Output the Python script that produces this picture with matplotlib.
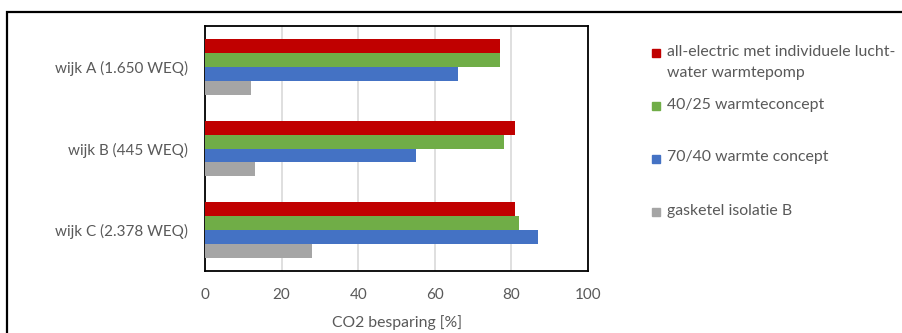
import numpy as np
import matplotlib.pyplot as plt
from matplotlib.patches import Rectangle

# data
wijken = ['wijk A (1.650 WEQ)', 'wijk B (445 WEQ)', 'wijk C (2.378 WEQ)']
series_labels = ['all-electric met individuele lucht-\nwater warmtepomp',
                 '40/25 warmteconcept',
                 '70/40 warmte concept',
                 'gasketel isolatie B']
all_electric = [77, 81, 81]
concept_40_25 = [77, 78, 82]
concept_70_40 = [66, 55, 87]
gasketel = [12, 13, 28]
xticks = [0, 20, 40, 60, 80, 100]

colors = ['#C00000', '#70AD47', '#4472C4', '#A5A5A5']
series = [all_electric, concept_40_25, concept_70_40, gasketel]

W, H = 902, 333
plt.rcParams['font.family'] = ['Lato', 'DejaVu Sans']
fig = plt.figure(figsize=(W / 100, H / 100), dpi=100)

# outer frame (cut off at right and bottom like the screenshot)
fig.patches.append(Rectangle((7 / W, -0.2), 1.2, (H - 12) / H + 0.2,
                             transform=fig.transFigure, fill=False,
                             edgecolor='black', linewidth=1.6))

ax = fig.add_axes([205 / W, (H - 271) / H, 383 / W, 245 / H])
y = np.arange(len(wijken))
h = 0.1714
for j, (vals, c) in enumerate(zip(series, colors)):
    ax.barh(y + (j - 1.5) * h, vals, height=h, color=c, zorder=3)

ax.set_xlim(0, 100)
ax.set_ylim(len(wijken) - 0.5, -0.5)
ax.set_xticks(xticks)
ax.set_yticks(y)
ax.set_yticklabels(wijken)
ax.tick_params(length=0, labelsize=11, labelcolor='#595959')
ax.tick_params(axis='x', pad=12)
ax.tick_params(axis='y', pad=12)
ax.grid(axis='x', color='#D9D9D9', linewidth=1.2, zorder=0)
for s in ax.spines.values():
    s.set_color('black')
    s.set_linewidth(1.3)
ax.set_xlabel('CO2 besparing [%]', fontsize=11.3, color='#595959', labelpad=10)

# legend
leg_y = [53, 106, 159, 212]
for lab, c, ly in zip(series_labels, colors, leg_y):
    fig.patches.append(Rectangle((652 / W, (H - ly - 4) / H), 8 / W, 8 / H,
                                 transform=fig.transFigure, color=c))
    fig.text(667 / W, (H - ly + 8.5) / H, lab, fontsize=11.4, color='#595959',
             ha='left', va='top', linespacing=1.65)

fig.savefig('out.png', dpi=100, facecolor='white')
